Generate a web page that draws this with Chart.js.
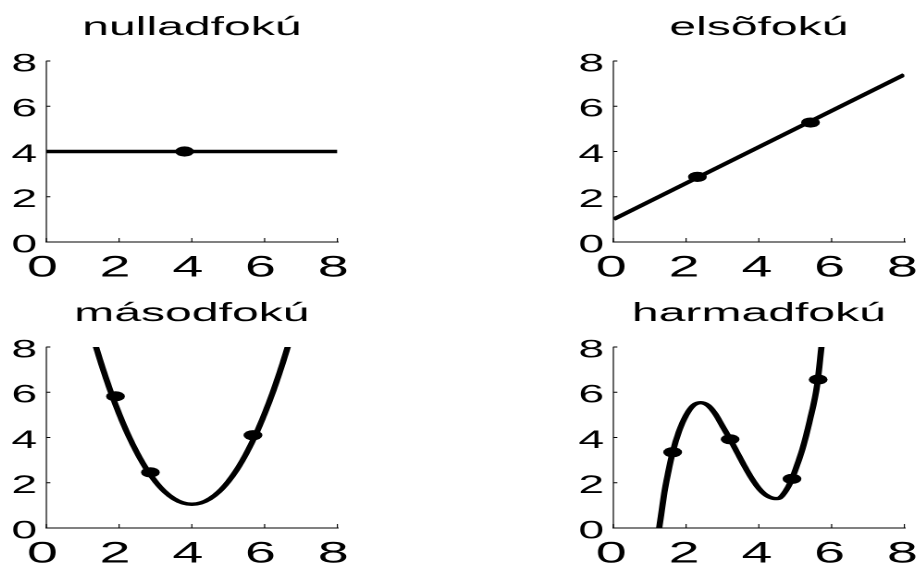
<!DOCTYPE html>
<html>
<head>
<meta charset="utf-8">
<script src="https://cdn.jsdelivr.net/npm/chart.js@4.4.1/dist/chart.umd.min.js"></script>
<style>
  html, body { margin: 0; padding: 0; background: #fff; overflow: hidden; }
  body { width: 917px; height: 565px; position: relative; }
  .panel { position: absolute; transform-origin: 0 0; }
</style>
</head>
<body>
<div class="panel" id="p0"><canvas id="c0"></canvas></div>
<div class="panel" id="p1"><canvas id="c1"></canvas></div>
<div class="panel" id="p2"><canvas id="c2"></canvas></div>
<div class="panel" id="p3"><canvas id="c3"></canvas></div>
<script>
const titles = ["nulladfokú", "elsõfokú", "másodfokú", "harmadfokú"];
const tickValues = [0, 2, 4, 6, 8];

// nulladfokú
const curveX0 = [0, 8];
const curveY0 = [4, 4];
const pointX0 = [3.8];
const pointY0 = [4];

// elsõfokú
const curveX1 = [0, 8];
const curveY1 = [1, 7.4];
const pointX1 = [2.31, 5.42];
const pointY1 = [2.88, 5.28];

// másodfokú
const curveX2 = [1.3, 1.5, 1.75, 2.0, 2.25, 2.5, 2.75, 3.0, 3.25, 3.5, 3.75, 4.0,
                 4.25, 4.5, 4.75, 5.0, 5.25, 5.5, 5.75, 6.0, 6.25, 6.5, 6.7];
const curveY2 = [8.34, 7.30, 6.11, 5.05, 4.11, 3.30, 2.61, 2.05, 1.61, 1.30, 1.11, 1.05,
                 1.11, 1.30, 1.61, 2.05, 2.61, 3.30, 4.11, 5.05, 6.11, 7.30, 8.34];
const pointX2 = [1.90, 2.86, 5.68];
const pointY2 = [5.82, 2.46, 4.10];

// harmadfokú
const curveX3 = [1.22, 1.26, 1.4, 1.5, 1.63, 1.8, 2.0, 2.2, 2.4, 2.6, 2.8, 3.0, 3.2, 3.4,
                 3.6, 3.8, 4.0, 4.2, 4.4, 4.5, 4.6, 4.8, 4.91, 5.0, 5.2, 5.4, 5.6, 5.72, 5.76];
const curveY3 = [-0.5, 0, 1.55, 2.4, 3.35, 4.25, 4.98, 5.42, 5.54, 5.42, 5.05, 4.5, 3.95, 3.35,
                 2.75, 2.2, 1.75, 1.45, 1.31, 1.3, 1.36, 1.8, 2.17, 2.55, 3.5, 4.75, 6.3, 8, 8.6];
const pointX3 = [1.63, 3.21, 4.91, 5.63];
const pointY3 = [3.35, 3.92, 2.17, 6.56];

const curvesX = [curveX0, curveX1, curveX2, curveX3];
const curvesY = [curveY0, curveY1, curveY2, curveY3];
const pointsX = [pointX0, pointX1, pointX2, pointX3];
const pointsY = [pointY0, pointY1, pointY2, pointY3];

// the figure is wider than it is tall: every panel is drawn narrow and stretched
const SX = 1.85;
const PLOT_W = 291, PLOT_H = 181;
const plotLeft = [46, 613, 46, 613];
const plotTop = [61, 61, 347, 347];
const xLabelShift = [-2.2, -1.1, -2.2, -1.1];
const PAD_L = 1, Y_W = 30, X_H = 45, TITLE_H = 49, TITLE_SIZE = 26;

Chart.defaults.font.family = "'Liberation Sans', Arial, Helvetica, sans-serif";
Chart.defaults.color = "#000";

// short tick marks pointing into the plot
const innerTicks = {
  id: "innerTicks",
  afterDraw(chart) {
    const { ctx, chartArea, scales: { x, y } } = chart;
    ctx.save();
    ctx.strokeStyle = "#000";
    ctx.beginPath();
    ctx.lineWidth = 0.6;
    tickValues.forEach(v => {
      const px = x.getPixelForValue(v);
      ctx.moveTo(px, chartArea.bottom);
      ctx.lineTo(px, chartArea.bottom - 4);
    });
    ctx.stroke();
    ctx.beginPath();
    ctx.lineWidth = 1;
    tickValues.forEach(v => {
      const py = y.getPixelForValue(v);
      ctx.moveTo(chartArea.left, py);
      ctx.lineTo(chartArea.left + 4 / SX, py);
    });
    ctx.stroke();
    ctx.restore();
  }
};

const pw = PLOT_W / SX;
// an empty axis on the right, as wide as the left one, keeps the title centred on the plot
const W = Math.ceil(PAD_L + 2 * Y_W + pw);
const padR = W - PAD_L - 2 * Y_W - pw;
const H = TITLE_H + PLOT_H + X_H;

titles.forEach((title, i) => {
  const box = document.getElementById("p" + i);
  const canvas = document.getElementById("c" + i);
  canvas.width = W;
  canvas.height = H;
  box.style.left = (plotLeft[i] - SX * (PAD_L + Y_W)) + "px";
  box.style.top = (plotTop[i] - TITLE_H) + "px";
  box.style.transform = `scaleX(${SX})`;

  const line = curvesX[i].map((x, j) => ({ x, y: curvesY[i][j] }));
  const dots = pointsX[i].map((x, j) => ({ x, y: pointsY[i][j] }));

  new Chart(canvas, {
    type: "scatter",
    data: {
      datasets: [
        {
          data: line,
          showLine: true,
          borderColor: "#000",
          borderWidth: 3.4,
          pointRadius: 0,
          cubicInterpolationMode: "monotone",
          order: 2
        },
        {
          data: dots,
          showLine: false,
          pointRadius: 5.1,
          pointBackgroundColor: "#000",
          pointBorderWidth: 0,
          order: 1
        }
      ]
    },
    options: {
      responsive: false,
      devicePixelRatio: 2,
      animation: false,
      events: [],
      layout: { padding: { left: PAD_L, right: padR, top: 0, bottom: 0 } },
      plugins: {
        legend: { display: false },
        tooltip: { enabled: false },
        title: {
          display: true,
          text: title,
          color: "#000",
          font: { size: TITLE_SIZE, weight: "normal" },
          padding: { top: 0, bottom: TITLE_H - TITLE_SIZE * 1.2 }
        }
      },
      scales: {
        x: {
          type: "linear",
          min: 0,
          max: 8,
          afterBuildTicks: s => { s.ticks = tickValues.map(v => ({ value: v })); },
          afterFit: s => { s.height = X_H; },
          grid: { display: false, drawTicks: false },
          border: { display: true, color: "#000", width: 1 },
          ticks: { font: { size: 30 }, color: "#000", padding: 8.4, labelOffset: xLabelShift[i],
                   maxRotation: 0, autoSkip: false }
        },
        y: {
          type: "linear",
          min: 0,
          max: 8,
          afterBuildTicks: s => { s.ticks = tickValues.map(v => ({ value: v })); },
          afterFit: s => { s.width = Y_W; },
          grid: { display: false, drawTicks: false },
          border: { display: true, color: "#000", width: 0.6 },
          ticks: { font: { size: 25 }, color: "#000", padding: 5, labelOffset: 3.5, autoSkip: false }
        },
        yRight: {
          type: "linear",
          position: "right",
          display: true,
          min: 0,
          max: 8,
          afterFit: s => { s.width = Y_W; },
          grid: { display: false, drawTicks: false },
          border: { display: false },
          ticks: { display: false }
        }
      }
    },
    plugins: [innerTicks]
  });
});
</script>
</body>
</html>
